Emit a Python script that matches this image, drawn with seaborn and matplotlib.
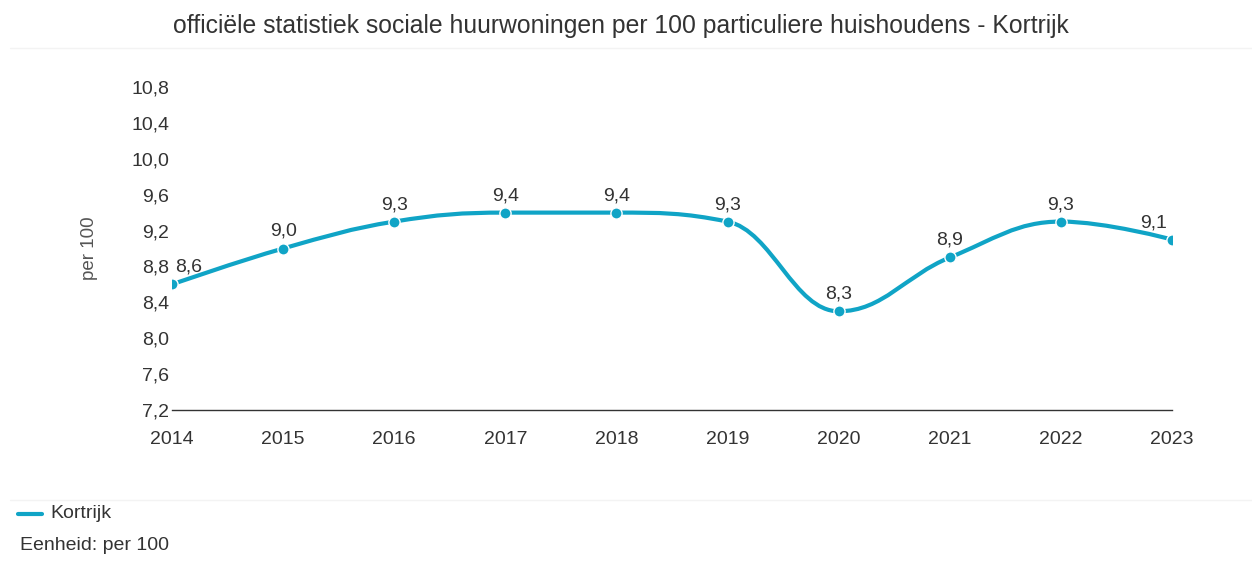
import numpy as np
import matplotlib.pyplot as plt
from matplotlib.path import Path
from matplotlib.patches import PathPatch
from matplotlib.lines import Line2D
import seaborn as sns
import pandas as pd

# data
years = [2014, 2015, 2016, 2017, 2018, 2019, 2020, 2021, 2022, 2023]
values = [8.6, 9.0, 9.3, 9.4, 9.4, 9.3, 8.3, 8.9, 9.3, 9.1]
y_ticks = [7.2, 7.6, 8.0, 8.4, 8.8, 9.2, 9.6, 10.0, 10.4, 10.8]
series_name = "Kortrijk"
chart_title = "officiële statistiek sociale huurwoningen per 100 particuliere huishoudens - Kortrijk"
y_title = "per 100"
unit_note = "Eenheid: per 100"

line_color = "#10a4c6"
text_color = "#333333"


def spline_path(xs, ys, smoothing=1.5):
    # smooth curve through the points (same idea as a highcharts spline)
    n = len(xs)
    denom = smoothing + 1
    left = []
    right = []
    for i in range(n):
        x, y = xs[i], ys[i]
        if 0 < i < n - 1:
            lx, ly = xs[i - 1], ys[i - 1]
            nx, ny = xs[i + 1], ys[i + 1]
            lcx = (smoothing * x + lx) / denom
            lcy = (smoothing * y + ly) / denom
            rcx = (smoothing * x + nx) / denom
            rcy = (smoothing * y + ny) / denom
            if rcx != lcx:
                corr = ((rcy - lcy) * (rcx - x)) / (rcx - lcx) + y - rcy
                lcy += corr
                rcy += corr
            if lcy > ly and lcy > y:
                lcy = max(ly, y)
                rcy = 2 * y - lcy
            elif lcy < ly and lcy < y:
                lcy = min(ly, y)
                rcy = 2 * y - lcy
            if rcy > ny and rcy > y:
                rcy = max(ny, y)
                lcy = 2 * y - rcy
            elif rcy < ny and rcy < y:
                rcy = min(ny, y)
                lcy = 2 * y - rcy
        else:
            lcx, lcy, rcx, rcy = x, y, x, y
        left.append((lcx, lcy))
        right.append((rcx, rcy))
    verts = [(xs[0], ys[0])]
    codes = [Path.MOVETO]
    for i in range(1, n):
        verts += [right[i - 1], left[i], (xs[i], ys[i])]
        codes += [Path.CURVE4] * 3
    return Path(verts, codes)


sns.set_theme(style="white")
plt.rcParams['font.family'] = ['Liberation Sans', 'DejaVu Sans']

df = pd.DataFrame({"year": years, "value": values})

fig = plt.figure(figsize=(12.52, 5.63), dpi=100)
ax = fig.add_axes([172 / 1252, 1 - 410 / 563, 1000 / 1252, 323 / 563])

ax.add_patch(PathPatch(spline_path(years, values), facecolor="none",
                       edgecolor=line_color, lw=3, capstyle="round", zorder=3))
sns.scatterplot(data=df, x="year", y="value", ax=ax, color=line_color, s=65,
                edgecolor="white", linewidth=1, zorder=4, legend=False)

# data labels above the points
for i, (x, y) in enumerate(zip(years, values)):
    lab = f"{y:.1f}".replace(".", ",")
    ha, dx = "center", 0
    if i == 0:
        ha, dx = "left", 3
    elif i == len(years) - 1:
        ha, dx = "right", -5
    ax.annotate(lab, (x, y), xytext=(dx, 17), textcoords="offset pixels",
                ha=ha, va="center", fontsize=14, color=text_color, zorder=5)

ax.set_xlim(years[0], years[-1])
ax.set_ylim(y_ticks[0], y_ticks[-1])
ax.set_xticks(years)
ax.set_xticklabels([str(y) for y in years])
ax.set_yticks(y_ticks)
ax.set_yticklabels([f"{t:.1f}".replace(".", ",") for t in y_ticks])
ax.tick_params(axis="x", length=0, pad=15, labelsize=14, labelcolor=text_color)
ax.tick_params(axis="y", length=0, pad=2, labelsize=14, labelcolor=text_color)
ax.set_xlabel("")
ax.set_ylabel(y_title, fontsize=13.5, color="#555555")
ax.yaxis.set_label_coords(-74 / 1000, 0.5)
ax.grid(False)
for s in ["top", "right", "left"]:
    ax.spines[s].set_visible(False)
ax.spines["bottom"].set_color("#333333")
ax.spines["bottom"].set_linewidth(1)
ax.patch.set_alpha(0)

fig.text(621 / 1252, 1 - 26 / 563, chart_title, ha="center", va="center",
         fontsize=17.8, color=text_color)

# faint separator lines
fig.add_artist(Line2D([10 / 1252, 1], [1 - 48 / 563] * 2, color="#f3f3f3", lw=1))
fig.add_artist(Line2D([10 / 1252, 1], [1 - 500 / 563] * 2, color="#f3f3f3", lw=1))

# legend and unit note
fig.add_artist(Line2D([18 / 1252, 42 / 1252], [1 - 514 / 563] * 2, color=line_color, lw=3))
fig.text(50 / 1252, 1 - 514 / 563, series_name, ha="left", va="center",
         fontsize=14, color=text_color)
fig.text(20 / 1252, 1 - 546 / 563, unit_note, ha="left", va="center",
         fontsize=14, color=text_color)

fig.savefig("out.png", dpi=100)
